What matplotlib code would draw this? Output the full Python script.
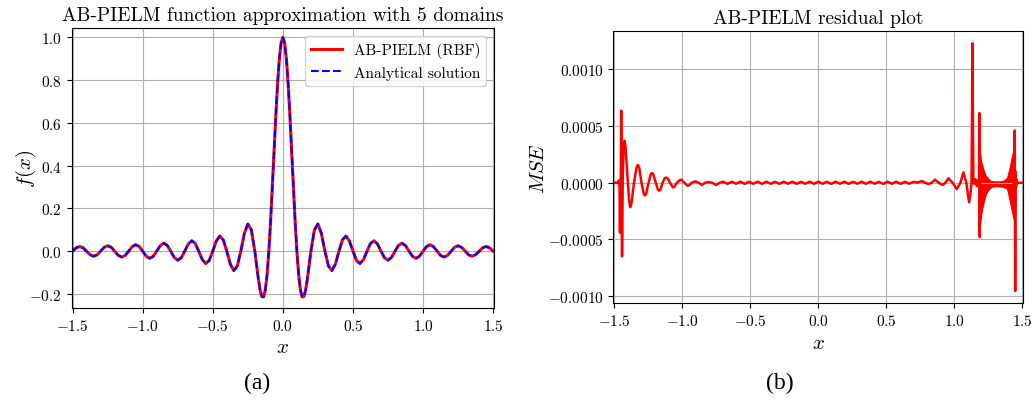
import numpy as np
import matplotlib
matplotlib.use("Agg")
import matplotlib.pyplot as plt

plt.rcParams['font.family'] = 'cmr10'
plt.rcParams['mathtext.fontset'] = 'cm'
plt.rcParams['axes.formatter.use_mathtext'] = True
plt.rcParams['axes.unicode_minus'] = True

# ---- (a) function values, right half (curve is symmetric about x=0)
x_fine = np.linspace(0.0, 0.2, 17)
f_fine = [1.0, 0.9745, 0.9003, 0.7842, 0.6366, 0.4705, 0.3001, 0.1392, 0.0,
          -0.1083, -0.1801, -0.2139, -0.2122, -0.1810, -0.1286, -0.0650, 0.0]
x_coarse = np.linspace(0.225, 1.5, 52)
f_coarse = [0.1000, 0.1273, 0.0818, 0.0, -0.0693, -0.0909, -0.0600, 0.0,
            0.0530, 0.0707, 0.0474, 0.0, -0.0429, -0.0579, -0.0391, 0.0,
            0.0360, 0.0490, 0.0333, 0.0, -0.0310, -0.0424, -0.0290, 0.0,
            0.0273, 0.0374, 0.0257, 0.0, -0.0243, -0.0335, -0.0231, 0.0,
            0.0220, 0.0303, 0.0209, 0.0, -0.0200, -0.0277, -0.0192, 0.0,
            0.0184, 0.0255, 0.0177, 0.0, -0.0170, -0.0236, -0.0164, 0.0,
            0.0158, 0.0220, 0.0153, 0.0]

# ---- (b) residual
res_left_x = [-1.500, -1.475, -1.466, -1.461, -1.458, -1.455, -1.452, -1.449, -1.446,
              -1.443, -1.437, -1.430, -1.424, -1.416, -1.403, -1.390, -1.382, -1.372,
              -1.355, -1.335, -1.326, -1.316, -1.300, -1.283, -1.275, -1.266, -1.248,
              -1.230, -1.221, -1.212, -1.195, -1.178, -1.170, -1.160, -1.145, -1.128,
              -1.118, -1.105, -1.090, -1.070, -1.060, -1.040, -1.015, -1.005, -0.985,
              -0.962, -0.952, -0.930, -0.907, -0.880, -0.857, -0.830, -0.809, -0.780,
              -0.752, -0.725, -0.699]
res_left_y = [0.0, 0.0, 0.00002, -0.00005, -0.00044, 0.0, 0.00001, 0.000636, -0.0001,
              -0.00065, 0.0001, 0.00033, 0.00037, 0.00030, 0.00005, -0.00017, -0.000217, -0.00017,
              0.0, 0.00014, 0.000156, 0.00013, 0.0, -0.0001, -0.000112, -0.0001, 0.0,
              0.00008, 0.000085, 0.00007, 0.0, -0.000065, -0.00007, -0.00006, 0.0, 0.000042,
              0.000045, 0.000035, 0.0, -0.00004, -0.00004, 0.0, 0.000026, 0.000026, 0.0,
              -0.000026, -0.000025, 0.0, 0.000012, 0.0, -0.00002, 0.0, 0.000006, 0.0,
              -0.00002, 0.0, 0.000009]
res_mid_x = np.linspace(-0.668, 0.700, 44)
res_mid_y = [-0.00001, 0.000008, -0.000009, 0.000009, -0.00001, 0.000008, -0.000009, 0.000009,
             -0.00001, 0.000009, -0.000009, 0.000008, -0.00001, 0.000009, -0.000009, 0.000009,
             -0.00001, 0.000008, -0.000009, 0.000009, -0.00001, 0.000009, -0.000009, 0.000008,
             -0.00001, 0.000009, -0.000009, 0.000009, -0.00001, 0.000008, -0.000009, 0.000009,
             -0.00001, 0.000009, -0.000009, 0.000008, -0.00001, 0.000009, -0.000009, 0.000009,
             -0.00001, 0.000008, -0.000009, 0.000008]
res_right_x = [0.730, 0.760, 0.785, 0.809, 0.833, 0.858, 0.885, 0.912, 0.935, 0.956,
               0.987, 1.018, 1.045, 1.066, 1.088, 1.108, 1.118, 1.126, 1.130, 1.133,
               1.136, 1.140, 1.147, 1.155, 1.165, 1.175, 1.181, 1.184, 1.186, 1.189]
res_right_y = [0.0, 0.000015, 0.0, -0.000012, 0.0, 0.000027, 0.0, -0.00002, 0.0, 0.000039,
               0.0, -0.000056, 0.0, 0.000092, 0.0, -0.000173, -0.0001, 0.0, 0.0006, 0.00123,
               0.0006, 0.0, -0.00001, 0.00003, -0.00003, 0.00002, 0.0, 0.000615, -0.00048, 0.0]
# dense oscillation band between 1.19 and 1.44: envelope
band_x = [1.189, 1.195, 1.204, 1.216, 1.228, 1.240, 1.253, 1.265, 1.277, 1.300,
          1.326, 1.350, 1.363, 1.375, 1.388, 1.404, 1.414, 1.424, 1.436, 1.442]
band_hi = [0.00026, 0.0002, 0.00016, 0.000106, 0.00007, 0.000048, 0.00003, 0.000018, 0.000015, 0.000012,
           0.000012, 0.000014, 0.00002, 0.00003, 0.000048, 0.00012, 0.00018, 0.00024, 0.0003, 0.00028]
band_lo = [-0.00036, -0.0003, -0.000232, -0.00017, -0.000115, -0.00008, -0.00006, -0.000045, -0.000035, -0.000032,
           -0.000032, -0.000035, -0.00004, -0.000045, -0.000056, -0.000144, -0.0002, -0.00026, -0.00032, -0.0003]
tail_x = [1.436, 1.441, 1.444, 1.447, 1.450, 1.453, 1.457, 1.462, 1.468, 1.475, 1.5]
tail_y = [0.0, 0.0002, 0.00046, -0.000955, 0.0001, -0.00004, 0.00003, -0.00001, 0.0, 0.0, 0.0]

x_half = np.concatenate([x_fine, x_coarse])
f_half = np.concatenate([f_fine, f_coarse])
x_full = np.concatenate([-x_half[::-1], x_half[1:]])
f_full = np.concatenate([f_half[::-1], f_half[1:]])

res_x = np.concatenate([res_left_x, res_mid_x, res_right_x])
res_y = np.concatenate([res_left_y, res_mid_y, res_right_y])

fig = plt.figure(figsize=(10.32, 4.02), dpi=100)

ax1 = fig.add_axes([0.0695, 0.2306, 0.4092, 0.6965])
ax1.plot(x_full, f_full, 'r-', lw=2.2, label='AB-PIELM (RBF)')
ax1.plot(x_full, f_full, 'b--', lw=1.5, label='Analytical solution')
ax1.set_xlim(-1.506, 1.506)
ax1.set_ylim(-0.267, 1.042)
ax1.set_xticks([-1.5, -1.0, -0.5, 0.0, 0.5, 1.0, 1.5])
ax1.set_yticks([-0.2, 0.0, 0.2, 0.4, 0.6, 0.8, 1.0])
ax1.grid(True)
ax1.tick_params(labelsize=11)
ax1.set_title('AB-PIELM function approximation with 5 domains', fontsize=14)
ax1.set_xlabel('$x$', fontsize=15)
ax1.set_ylabel('$f(x)$', fontsize=15)
ax1.yaxis.set_label_coords(-0.08, 0.5)
ax1.legend(loc='upper right', fontsize=11)

ax2 = fig.add_axes([0.5943, 0.2430, 0.3973, 0.6767])
ax2.plot(res_x, res_y, 'r-', lw=1.8)
ax2.fill_between(band_x, band_lo, band_hi, color='red', lw=0.8)
ax2.plot(tail_x, tail_y, 'r-', lw=1.8)
ax2.set_xlim(-1.507, 1.507)
ax2.set_ylim(-0.001064, 0.001336)
ax2.set_xticks([-1.5, -1.0, -0.5, 0.0, 0.5, 1.0, 1.5])
ax2.set_yticks([-0.001, -0.0005, 0.0, 0.0005, 0.001])
ax2.yaxis.set_major_formatter(matplotlib.ticker.FormatStrFormatter('$%.4f$'))
ax2.grid(True)
ax2.tick_params(labelsize=11)
ax2.set_title('AB-PIELM residual plot', fontsize=14)
ax2.set_xlabel('$x$', fontsize=15)
ax2.set_ylabel('$MSE$', fontsize=15)
ax2.yaxis.set_label_coords(-0.16, 0.5)

fig.text(0.249, 0.032, '(a)', fontsize=17, family='Liberation Serif', ha='center')
fig.text(0.756, 0.032, '(b)', fontsize=17, family='Liberation Serif', ha='center')

fig.savefig('out.png', dpi=100)
